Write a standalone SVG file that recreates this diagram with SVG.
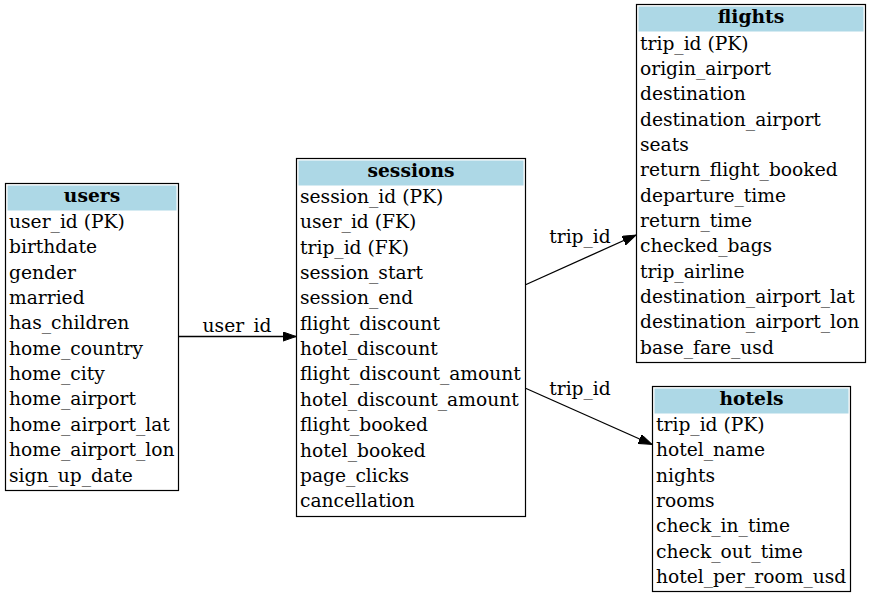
<svg xmlns="http://www.w3.org/2000/svg" width="871" height="597" viewBox="0 0 871 597">
<style>
text { font-family: "DejaVu Serif", "Liberation Serif", serif; font-size: 18.67px; fill: #000; }
.hdr { font-weight: bold; text-anchor: middle; }
.box { fill: #fff; stroke: #000; stroke-width: 1.2; }
.hfill { fill: #add8e6; }
.edge { fill: none; stroke: #000; stroke-width: 1.3; }
.lbl { text-anchor: middle; }
</style>
<defs>
<marker id="arr" markerUnits="userSpaceOnUse" markerWidth="14" markerHeight="10" refX="13.5" refY="4.75" orient="auto">
<path d="M0,0 L13.5,4.75 L0,9.5 z" fill="#000" stroke="#000" stroke-width="1"/>
</marker>
</defs>
<rect width="871" height="597" fill="#fff"/>

<g id="edges">
<line class="edge" x1="178" y1="336.5" x2="296" y2="336.5" marker-end="url(#arr)"/>
<text class="lbl" x="237" y="332">user_id</text>
<line class="edge" x1="525" y1="285" x2="636" y2="235" marker-end="url(#arr)"/>
<text class="lbl" x="580" y="243">trip_id</text>
<line class="edge" x1="525" y1="388" x2="652" y2="444.5" marker-end="url(#arr)"/>
<text class="lbl" x="580" y="395">trip_id</text>
</g>

<g id="users">
<rect class="box" x="5.5" y="183.5" width="173" height="307"/>
<rect class="hfill" x="7.5" y="185.5" width="169" height="25"/>
<text class="hdr" x="92" y="202">users</text>
<text x="9" y="228">user_id (PK)</text>
<text x="9" y="253.35">birthdate</text>
<text x="9" y="278.7">gender</text>
<text x="9" y="304.05">married</text>
<text x="9" y="329.4">has_children</text>
<text x="9" y="354.75">home_country</text>
<text x="9" y="380.1">home_city</text>
<text x="9" y="405.45">home_airport</text>
<text x="9" y="430.8">home_airport_lat</text>
<text x="9" y="456.15">home_airport_lon</text>
<text x="9" y="481.5">sign_up_date</text>
</g>

<g id="sessions">
<rect class="box" x="296.5" y="158.5" width="229" height="358"/>
<rect class="hfill" x="298.5" y="160.5" width="225" height="25"/>
<text class="hdr" x="411" y="177">sessions</text>
<text x="300" y="203">session_id (PK)</text>
<text x="300" y="228.35">user_id (FK)</text>
<text x="300" y="253.7">trip_id (FK)</text>
<text x="300" y="279.05">session_start</text>
<text x="300" y="304.4">session_end</text>
<text x="300" y="329.75">flight_discount</text>
<text x="300" y="355.1">hotel_discount</text>
<text x="300" y="380.45">flight_discount_amount</text>
<text x="300" y="405.8">hotel_discount_amount</text>
<text x="300" y="431.15">flight_booked</text>
<text x="300" y="456.5">hotel_booked</text>
<text x="300" y="481.85">page_clicks</text>
<text x="300" y="507.2">cancellation</text>
</g>

<g id="flights">
<rect class="box" x="636.5" y="4.5" width="229" height="358"/>
<rect class="hfill" x="638.5" y="6.5" width="225" height="25"/>
<text class="hdr" x="751" y="23">flights</text>
<text x="640" y="49.5">trip_id (PK)</text>
<text x="640" y="74.85">origin_airport</text>
<text x="640" y="100.2">destination</text>
<text x="640" y="125.55">destination_airport</text>
<text x="640" y="150.9">seats</text>
<text x="640" y="176.25">return_flight_booked</text>
<text x="640" y="201.6">departure_time</text>
<text x="640" y="226.95">return_time</text>
<text x="640" y="252.3">checked_bags</text>
<text x="640" y="277.65">trip_airline</text>
<text x="640" y="303">destination_airport_lat</text>
<text x="640" y="328.35">destination_airport_lon</text>
<text x="640" y="353.7">base_fare_usd</text>
</g>

<g id="hotels">
<rect class="box" x="652.5" y="386.5" width="198" height="205"/>
<rect class="hfill" x="654.5" y="388.5" width="194" height="25"/>
<text class="hdr" x="751.5" y="405">hotels</text>
<text x="656" y="431">trip_id (PK)</text>
<text x="656" y="456.35">hotel_name</text>
<text x="656" y="481.7">nights</text>
<text x="656" y="507.05">rooms</text>
<text x="656" y="532.4">check_in_time</text>
<text x="656" y="557.75">check_out_time</text>
<text x="656" y="583.1">hotel_per_room_usd</text>
</g>
</svg>
